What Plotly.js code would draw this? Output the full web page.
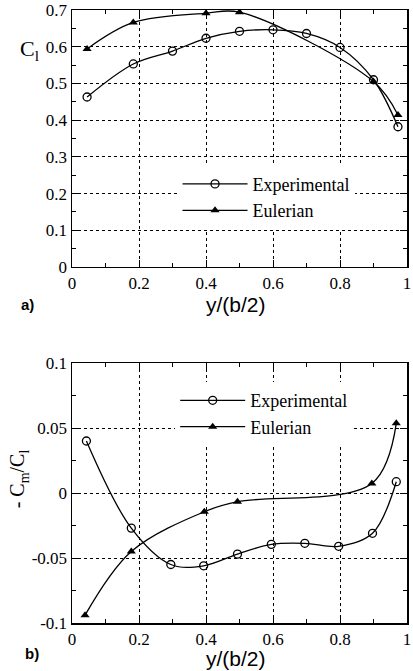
<!DOCTYPE html>
<html><head><meta charset="utf-8">
<script src="https://cdn.plot.ly/plotly-3.0.1.min.js"></script>
<style>html,body{margin:0;padding:0;background:#fff}</style></head><body>
<div id="chart" style="width:413px;height:671px"></div>
<script>
// Panel a) lift coefficient distribution
const xExpA = [0.045, 0.183, 0.30, 0.40, 0.50, 0.60, 0.70, 0.80, 0.90, 0.973];
const clExp = [0.463, 0.553, 0.588, 0.623, 0.642, 0.646, 0.636, 0.598, 0.510, 0.382];
const xEulA = [0.045, 0.183, 0.40, 0.50, 0.90, 0.973];
const clEul = [0.594, 0.666, 0.691, 0.694, 0.505, 0.414];
// Panel b) -Cm/Cl distribution
const xExpB = [0.043, 0.177, 0.295, 0.393, 0.494, 0.595, 0.695, 0.796, 0.897, 0.968];
const cmExp = [0.040, -0.027, -0.055, -0.056, -0.047, -0.0395, -0.0387, -0.041, -0.031, 0.0087];
const xEulB = [0.039, 0.177, 0.395, 0.494, 0.895, 0.968];
const cmEul = [-0.094, -0.045, -0.0144, -0.0067, 0.0074, 0.0536];
// tick labels
const xTickVals = [0, 0.2, 0.4, 0.6, 0.8, 1];
const xTickText = ['0', '0.2', '0.4', '0.6', '0.8', '1'];
const yTickValsA = [0, 0.1, 0.2, 0.3, 0.4, 0.5, 0.6, 0.7];
const yTickTextA = ['0', '0.1', '0.2', '0.3', '0.4', '0.5', '0.6', '0.7'];
const yTickValsB = [-0.1, -0.05, 0, 0.05, 0.1];
const yTickTextB = ['-0.1', '-0.05', '0', '0.05', '0.1'];
const names = ['Experimental', 'Eulerian'];

const serif = 'Liberation Serif';
const sans = 'Liberation Sans';
const lineStyle = {color: '#000', width: 1.3, shape: 'spline', smoothing: 1};
const circ = {symbol: 'circle-open', size: 8, color: '#000', line: {width: 1.3, color: '#000'}};
const tri = {symbol: 'triangle-up', size: 8, color: '#000'};

const traces = [
  {x: xExpA, y: clExp, name: names[0], mode: 'lines+markers', line: lineStyle, marker: circ, xaxis: 'x', yaxis: 'y', legend: 'legend'},
  {x: xEulA, y: clEul, name: names[1], mode: 'lines+markers', line: lineStyle, marker: tri, xaxis: 'x', yaxis: 'y', legend: 'legend'},
  {x: xExpB, y: cmExp, name: names[0], mode: 'lines+markers', line: lineStyle, marker: circ, xaxis: 'x2', yaxis: 'y2', legend: 'legend2'},
  {x: xEulB, y: cmEul, name: names[1], mode: 'lines+markers', line: lineStyle, marker: tri, xaxis: 'x2', yaxis: 'y2', legend: 'legend2'}
];

function ax(extra) {
  return Object.assign({
    showline: true, linecolor: '#000', linewidth: 1.5, mirror: 'allticks',
    ticks: 'inside', ticklen: 7, tickwidth: 1, tickcolor: '#000',
    showgrid: true, gridcolor: '#000', griddash: 'dot', gridwidth: 1,
    zeroline: false, tickmode: 'array', automargin: false, ticklabeloverflow: 'allow',
    tickfont: {family: serif, size: 17, color: '#000'}
  }, extra);
}

const legBase = {
  xanchor: 'left', yanchor: 'top', bgcolor: '#fff', borderwidth: 0,
  itemwidth: 65, font: {family: serif, size: 18, color: '#000'}, tracegroupgap: 0
};

function note(text, x, y, font, extra) {
  return Object.assign({text: text, xref: 'paper', yref: 'paper', x: x, y: y,
    xanchor: 'center', yanchor: 'middle', showarrow: false, font: font}, extra || {});
}

const layout = {
  width: 413, height: 671,
  margin: {l: 72, r: 6, t: 10, b: 48, autoexpand: false},
  paper_bgcolor: '#fff', plot_bgcolor: '#fff',
  showlegend: true,
  xaxis: ax({domain: [0, 1], range: [0, 1], tickvals: xTickVals, ticktext: xTickText, anchor: 'y',
    minor: {dtick: 0.1, ticks: 'inside', ticklen: 4, tickcolor: '#000', showgrid: false}}),
  yaxis: ax({domain: [0.5808, 1], range: [0, 0.7], tickvals: yTickValsA, ticktext: yTickTextA, anchor: 'x',
    minor: {dtick: 0.05, ticks: 'inside', ticklen: 4, tickcolor: '#000', showgrid: false}}),
  xaxis2: ax({domain: [0, 1], range: [0, 1], tickvals: xTickVals, ticktext: xTickText, anchor: 'y2',
    minor: {dtick: 0.1, ticks: 'inside', ticklen: 4, tickcolor: '#000', showgrid: false}}),
  yaxis2: ax({domain: [0, 0.4241], range: [-0.1, 0.1], tickvals: yTickValsB, ticktext: yTickTextB, anchor: 'x2',
    minor: {dtick: 0.025, ticks: 'inside', ticklen: 4, tickcolor: '#000', showgrid: false}}),
  legend: Object.assign({x: 0.315, y: 0.746}, legBase),
  legend2: Object.assign({x: 0.308, y: 0.393}, legBase),
  annotations: [
    note('C<sub>l</sub>', -0.128, 0.935, {family: serif, size: 22, color: '#000'}),
    note('y/(b/2)', 0.49, 0.519, {family: sans, size: 21, color: '#000'}),
    note('<b>a)</b>', -0.134, 0.519, {family: sans, size: 15, color: '#000'}),
    note('- C<sub>m</sub>/C<sub>l</sub>', -0.157, 0.235, {family: serif, size: 20, color: '#000'}, {textangle: -90}),
    note('y/(b/2)', 0.49, -0.058, {family: sans, size: 21, color: '#000'}),
    note('<b>b)</b>', -0.12, -0.05, {family: sans, size: 15, color: '#000'})
  ]
};

Plotly.newPlot('chart', traces, layout, {staticPlot: true, displayModeBar: false});
</script>
</body></html>
